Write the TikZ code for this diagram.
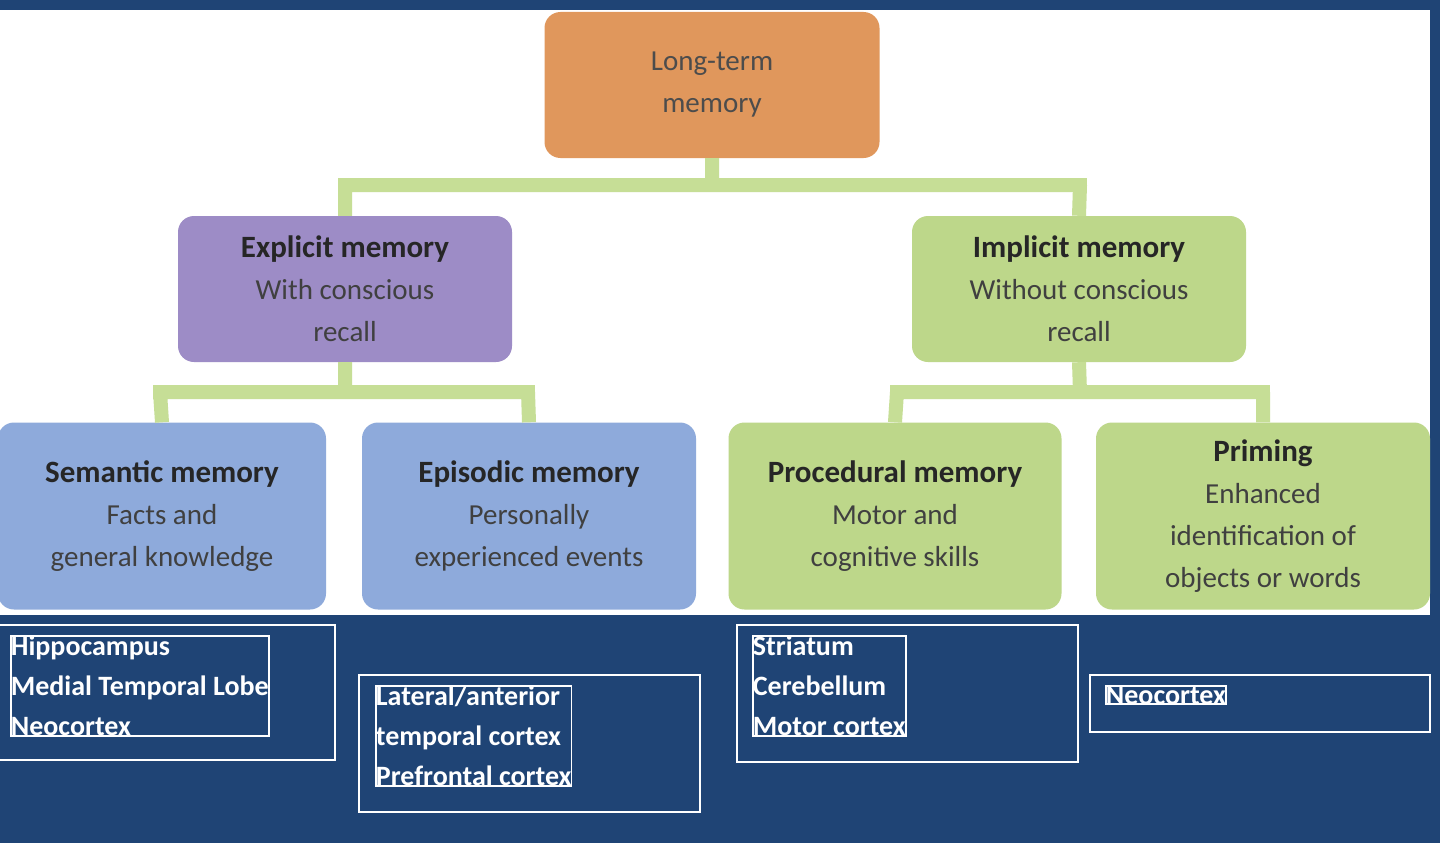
\documentclass[tikz,border=0pt]{standalone}
\usepackage{fontspec}
\setmainfont{Carlito}
\begin{document}
\begin{tikzpicture}[x=1pt,y=-1pt,
  box/.style={rounded corners=16pt,draw=none,align=center,text=black!75,font=\fontsize{29}{42}\selectfont,inner sep=0pt},
  ttl/.style={font=\fontsize{31}{42}\selectfont\bfseries,text=black!85},
  con/.style={draw=linkgreen,line width=14pt},
  reg/.style={draw=white,line width=1.8pt,text=white,align=left,anchor=north west,font=\fontsize{28}{40}\selectfont\bfseries,inner sep=0pt}]
\definecolor{navy}{HTML}{1F4475}
\definecolor{orng}{HTML}{E0975C}
\definecolor{purp}{HTML}{9D8CC6}
\definecolor{grn}{HTML}{BDD78A}
\definecolor{blu}{HTML}{8EAADB}
\definecolor{linkgreen}{HTML}{C6DE96}
\useasboundingbox (0,0) rectangle (1440,843);
\fill[navy] (0,0) rectangle (1440,843);
\fill[white] (0,10) rectangle (1430,615);
% connectors
\coordinate (j1) at (712,185); \coordinate (j2) at (345,185); \coordinate (j3) at (1080,185);
\coordinate (k1) at (345,392); \coordinate (k2) at (160,392); \coordinate (k3) at (528,392);
\coordinate (m1) at (1080,392); \coordinate (m2) at (897,392); \coordinate (m3) at (1263,392);
\node[box,fill=orng,minimum width=335pt,minimum height=146pt,text=black!70] (lt) at (712,85) {Long-term\\memory};
\node[box,fill=purp,minimum width=334pt,minimum height=146pt] (ex) at (345,289) {\textbf{\color{black!85}\fontsize{31}{42}\selectfont Explicit memory}\\With conscious\\recall};
\node[box,fill=grn,minimum width=334pt,minimum height=146pt] (im) at (1079,289) {\textbf{\color{black!85}\fontsize{31}{42}\selectfont Implicit memory}\\Without conscious\\recall};
\node[box,fill=blu,minimum width=328pt,minimum height=187pt] (se) at (162,516) {\textbf{\color{black!85}\fontsize{31}{42}\selectfont Semantic memory}\\Facts and\\general knowledge};
\node[box,fill=blu,minimum width=334pt,minimum height=187pt] (ep) at (529,516) {\textbf{\color{black!85}\fontsize{31}{42}\selectfont Episodic memory}\\Personally\\experienced events};
\node[box,fill=grn,minimum width=333pt,minimum height=187pt] (pr) at (895,516) {\textbf{\color{black!85}\fontsize{31}{42}\selectfont Procedural memory}\\Motor and\\cognitive skills};
\node[box,fill=grn,minimum width=334pt,minimum height=187pt] (pm) at (1263,516) {\textbf{\color{black!85}\fontsize{31}{42}\selectfont Priming}\\Enhanced\\identification of\\objects or words};
\begin{scope}[on background layer/.try]
\end{scope}
\draw[con] (lt.south) -- (j1) (j2) -- (j3) (j2) -- (ex.north) (j3) -- (im.north);
\draw[con] (ex.south) -- (k1) (k2) -- (k3) (k2) -- (se.north) (k3) -- (ep.north);
\draw[con] (im.south) -- (m1) (m2) -- (m3) (m2) -- (pr.north) (m3) -- (pm.north);
\draw[con,line cap=rect] (j2)--(j3) (k2)--(k3) (m2)--(m3);
% region boxes
\draw[white,line width=1.8pt] (-2,625) rectangle (335,760);
\node[reg] (r1) at (10,635) {Hippocampus\\Medial Temporal Lobe\\Neocortex};
\draw[white,line width=1.8pt] (359,675) rectangle (700,812);
\node[reg] (r2) at (375,685) {Lateral/anterior\\temporal cortex\\Prefrontal cortex};
\draw[white,line width=1.8pt] (737,625) rectangle (1078,762);
\node[reg] (r3) at (752,635) {Striatum\\Cerebellum\\Motor cortex};
\draw[white,line width=1.8pt] (1090,675) rectangle (1430,732);
\node[reg] (r4) at (1105,685) {Neocortex};
\end{tikzpicture}
\end{document}
